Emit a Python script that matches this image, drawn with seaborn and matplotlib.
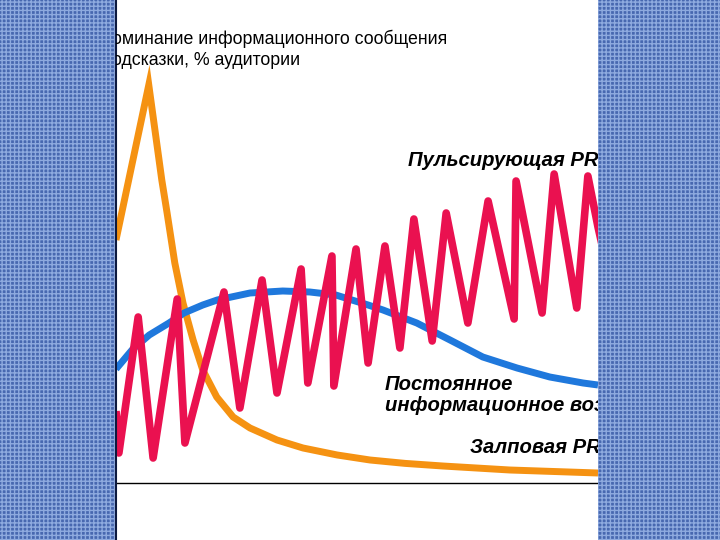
import matplotlib
matplotlib.use("Agg")
import matplotlib.pyplot as plt
from matplotlib.patches import Rectangle
import seaborn as sns

# series (x: time, 0..100; y: % audience)
pulse_x = [0, 0.6, 4.6, 7.7, 12.7, 14.3, 22.4, 25.7, 30.3, 33.4, 38.4, 39.8, 44.8, 45.2,
           49.8, 52.3, 55.8, 58.9, 61.8, 65.6, 68.5, 73.0, 77.2, 82.6, 83.0, 88.4,
           90.9, 95.6, 97.9, 100, 101.5]
pulse_y = [18, 7.5, 41.5, 6.25, 46, 10, 47.75, 18.75, 50.75, 22.5, 53.5, 25, 56.75, 24.25,
           58.5, 30, 59.25, 33.75, 66, 35.5, 67.5, 40, 70.5, 41, 75.5, 42.5,
           77.25, 43.75, 76.75, 64, 56]

const_x = [0, 3.5, 6.9, 11.0, 14.1, 18.0, 21.0, 27.8, 34.6, 40.2, 45.6, 52.3, 55.4, 62.4,
           69.3, 76.1, 83.2, 90.0, 96.9, 100]
const_y = [28.5, 33.5, 37.0, 40.0, 42.5, 44.5, 45.75, 47.5, 48.0, 47.75, 47.0, 44.5, 43.25, 40.0,
           35.75, 31.5, 28.75, 26.5, 25.0, 24.5]

burst_x = [0, 6.8, 9.5, 10.6, 12.2, 13.9, 16.0, 18.0, 20.9, 24.3, 27.8, 33.4, 38.8, 45.9,
           52.7, 60.0, 67.8, 81.7, 100]
burst_y = [60.75, 99.5, 75.75, 67.5, 55, 45, 35.75, 28.25, 21.5, 16.5, 13.75, 10.75, 8.75, 7.0,
           5.75, 4.9, 4.25, 3.25, 2.5]

title_lines = ["оминание информационного сообщения", "одсказки, % аудитории"]
label_pulse = "Пульсирующая PR"
label_const = ["Постоянное", "информационное воздействие"]
label_burst = "Залповая PR"

RED = "#ea1150"
BLUE = "#1f78dc"
ORANGE = "#f59212"

sns.set_style("white")
plt.rcParams["font.family"] = ["Liberation Sans", "DejaVu Sans"]
plt.rcParams["hatch.linewidth"] = 1.0

fig = plt.figure(figsize=(7.2, 5.4), dpi=100)
fig.patch.set_facecolor("#4868b0")
# blue cloth behind the white panel
fig.patches.append(Rectangle((0, 0), 1, 1, transform=fig.transFigure, facecolor="#4868b0",
                             edgecolor="#8eaadf", hatch="++++", lw=0, zorder=-6))

ax = fig.add_axes([116 / 720, 0, 482 / 720, 1], zorder=5)
ax.set_facecolor("white")

sns.lineplot(x=burst_x, y=burst_y, ax=ax, color=ORANGE, lw=5, sort=False, estimator=None)
sns.lineplot(x=const_x, y=const_y, ax=ax, color=BLUE, lw=5, sort=False, estimator=None)
sns.lineplot(x=pulse_x, y=pulse_y, ax=ax, color=RED, lw=5.5, sort=False, estimator=None)
ax.lines[0].set_solid_joinstyle("miter")
ax.lines[1].set_solid_joinstyle("round")
ax.lines[2].set_solid_joinstyle("round")
for ln in ax.lines:
    ln.set_solid_capstyle("butt")

ax.axhline(0, color="black", lw=1)
ax.set_xlim(0, 100)
ax.set_ylim((483 - 540) / 4, 483 / 4)
ax.set_xticks([])
ax.set_yticks([])
for s in ["top", "right", "bottom"]:
    ax.spines[s].set_visible(False)
ax.spines["left"].set_color("#0d1a40")
ax.spines["left"].set_linewidth(1.5)

ax.text(-0.8, 109.75, title_lines[0], fontsize=12.8, color="black", va="baseline", clip_on=True)
ax.text(-0.8, 104.5, title_lines[1], fontsize=12.8, color="black", va="baseline", clip_on=True)

bi = dict(fontsize=14.6, fontweight="bold", fontstyle="italic", color="black",
          va="baseline", clip_on=True)
ax.text(60.6, 79.25, label_pulse, **bi)
ax.text(55.8, 23.25, label_const[0], **bi)
ax.text(55.8, 18.0, label_const[1], **bi)
ax.text(73.4, 7.5, label_burst, **bi)

plt.savefig("out.png", dpi=100, facecolor=fig.get_facecolor())
